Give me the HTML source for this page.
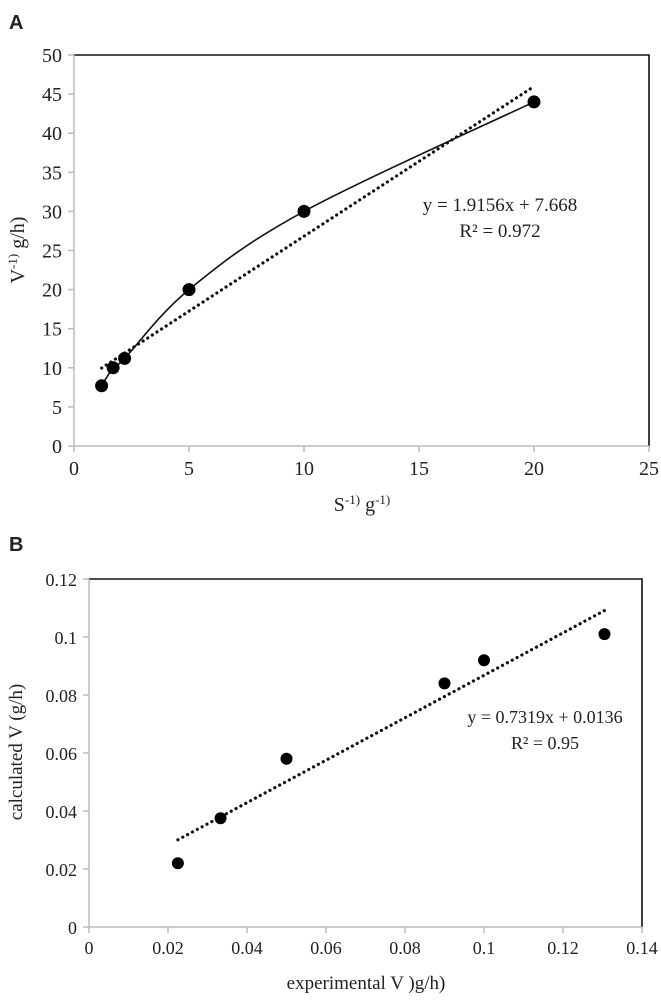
<!DOCTYPE html>
<html><head><meta charset="utf-8"><style>
html,body{margin:0;padding:0;background:#fff;}
svg text{font-family:"Liberation Serif",serif;fill:#222;}
</style></head><body>
<svg id="fig" width="661" height="995" viewBox="0 0 661 995" xmlns="http://www.w3.org/2000/svg">
<text x="9" y="29" style="font-family:'Liberation Sans',sans-serif;font-weight:bold;font-size:20px">A</text>
<text x="9" y="551" style="font-family:'Liberation Sans',sans-serif;font-weight:bold;font-size:20px">B</text>
<g id="chartA"></g>
<g id="chartB"></g>
</svg>
<script>
// Chart A data
const aX = [1.2, 1.7, 2.2, 5, 10, 20];
const aY = [7.7, 10, 11.2, 20, 30, 44];
const aXTicks = [0, 5, 10, 15, 20, 25];
const aYTicks = [0, 5, 10, 15, 20, 25, 30, 35, 40, 45, 50];
const aSlope = 1.9156, aIntercept = 7.668;
// Chart B data
const bX = [0.0225, 0.0333, 0.05, 0.09, 0.1, 0.1305];
const bY = [0.022, 0.0375, 0.058, 0.084, 0.092, 0.101];
const bXTicks = [0, 0.02, 0.04, 0.06, 0.08, 0.1, 0.12, 0.14];
const bYTicks = [0, 0.02, 0.04, 0.06, 0.08, 0.1, 0.12];
const bSlope = 0.7319, bIntercept = 0.0136;

const NS = "http://www.w3.org/2000/svg";
function mk(parent, tag, attrs, text){
  const e = document.createElementNS(NS, tag);
  for (const k in attrs) e.setAttribute(k, attrs[k]);
  if (text !== undefined) e.textContent = text;
  parent.appendChild(e); return e;
}

function drawChart(g, cfg){
  const sx = v => cfg.x0 + (v - cfg.xmin) / (cfg.xmax - cfg.xmin) * (cfg.x1 - cfg.x0);
  const sy = v => cfg.y0 - (v - cfg.ymin) / (cfg.ymax - cfg.ymin) * (cfg.y0 - cfg.y1);
  // frame top/right
  const fr = mk(g, "path", {d:`M${cfg.x0},${cfg.y1} H${cfg.x1} V${cfg.y0}`, fill:"none", stroke:"#111", "stroke-width":1.6});
  
  
  const ax = mk(g, "path", {d:`M${cfg.x0},${cfg.y1} V${cfg.y0} H${cfg.x1}`, fill:"none", stroke:"#bbb", "stroke-width":1.5});
  
  
  cfg.yTicks.forEach(t => {
    const y = sy(t);
    const tk = mk(g, "line", {x1:cfg.x0-6, x2:cfg.x0, y1:y, y2:y, stroke:"#bbb", "stroke-width":1.5});
    
    
    const lb = mk(g, "text", {x:cfg.x0-12, y:y+7, "text-anchor":"end", "font-size":cfg.fs}, String(t));
    
    
  });
  cfg.xTicks.forEach(t => {
    const x = sx(t);
    const tk = mk(g, "line", {x1:x, x2:x, y1:cfg.y0, y2:cfg.y0+6, stroke:"#bbb", "stroke-width":1.5});
    
    
    const lb = mk(g, "text", {x:x, y:cfg.y0+cfg.fs+9, "text-anchor":"middle", "font-size":cfg.fs}, String(t));
    
    
  });
  // trendline
  const xa = Math.min(...cfg.xs), xb = Math.max(...cfg.xs);
  const tl = mk(g, "line", {x1:sx(xa), y1:sy(cfg.m*xa+cfg.b), x2:sx(xb), y2:sy(cfg.m*xb+cfg.b), stroke:"#111", "stroke-width":3.2, "stroke-dasharray":"0.1 5.4", "stroke-linecap":"round"});
  
  
  // smooth curve
  if (cfg.smooth){
    const P = cfg.xs.map((v,i)=>[sx(v), sy(cfg.ys[i])]);
    let d = `M${P[0][0]},${P[0][1]}`;
    for (let i=0;i<P.length-1;i++){
      const p0=P[Math.max(0,i-1)], p1=P[i], p2=P[i+1], p3=P[Math.min(P.length-1,i+2)];
      const c1=[p1[0]+(p2[0]-p0[0])/6, p1[1]+(p2[1]-p0[1])/6];
      const c2=[p2[0]-(p3[0]-p1[0])/6, p2[1]-(p3[1]-p1[1])/6];
      d += ` C${c1[0]},${c1[1]} ${c2[0]},${c2[1]} ${p2[0]},${p2[1]}`;
    }
    const cv = mk(g, "path", {d:d, fill:"none", stroke:"#111", "stroke-width":1.6});
    
    
  }
  cfg.xs.forEach((v,i)=>{
    const c = mk(g, "circle", {cx:sx(v), cy:sy(cfg.ys[i]), r:cfg.r, fill:"#000"});
    
    
  });
  // equation
  const e1 = mk(g, "text", {x:cfg.eqX, y:cfg.eqY, "text-anchor":"middle", "font-size":cfg.eqFs}, cfg.eq1);
  
  
  const e2 = mk(g, "text", {x:cfg.eqX, y:cfg.eqY+26, "text-anchor":"middle", "font-size":cfg.eqFs}, cfg.eq2);
  
  
  // titles
  const xt = mk(g, "text", {x:cfg.xtX, y:cfg.xtY, "text-anchor":"middle", "font-size":cfg.tfs});
  xt.innerHTML = cfg.xTitle;
  
  
  const yt = mk(g, "text", {x:0, y:0, "text-anchor":"middle", "font-size":cfg.tfs, transform:`translate(${cfg.ytX},${cfg.ytY}) rotate(-90)`});
  yt.innerHTML = cfg.yTitle;
  
  
}

drawChart(document.getElementById("chartA"), {
  x0:74, x1:649, y0:446, y1:55, xmin:0, xmax:25, ymin:0, ymax:50,
  xTicks:aXTicks, yTicks:aYTicks, xs:aX, ys:aY, m:aSlope, b:aIntercept,
  smooth:true, r:6.5, fs:20, eqFs:19, tfs:20,
  eq1:"y = 1.9156x + 7.668", eq2:"R² = 0.972", eqX:500, eqY:211,
  xTitle:'S<tspan dy="-7" font-size="13">-1)</tspan><tspan dy="7"> g</tspan><tspan dy="-7" font-size="13">-1)</tspan>', xtX:362, xtY:511,
  yTitle:'V<tspan dy="-7" font-size="13">-1)</tspan><tspan dy="7"> g/h)</tspan>', ytX:24, ytY:250
});
drawChart(document.getElementById("chartB"), {
  x0:89, x1:642, y0:927, y1:579, xmin:0, xmax:0.14, ymin:0, ymax:0.12,
  xTicks:bXTicks, yTicks:bYTicks, xs:bX, ys:bY, m:bSlope, b:bIntercept,
  smooth:false, r:6, fs:18, eqFs:18, tfs:19,
  eq1:"y = 0.7319x + 0.0136", eq2:"R² = 0.95", eqX:545, eqY:723,
  xTitle:"experimental V )g/h)", xtX:366, xtY:989,
  yTitle:"calculated  V (g/h)", ytX:22, ytY:752
});
</script>
</body></html>
